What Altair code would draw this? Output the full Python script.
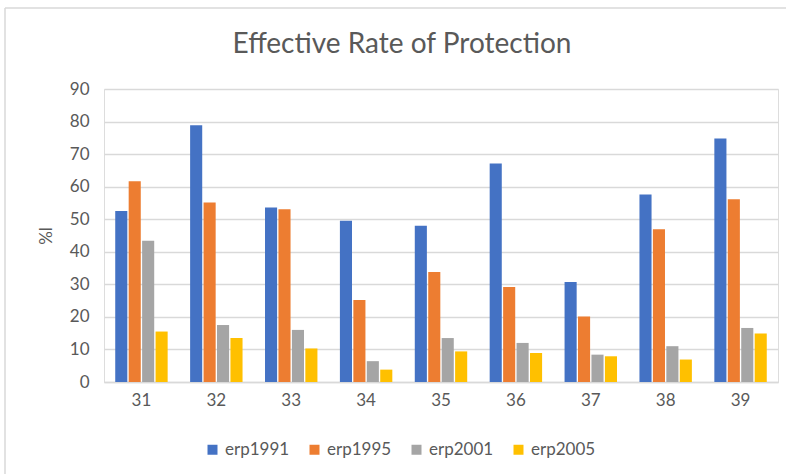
import altair as alt
import pandas as pd

# Industry codes on the x axis
categories = ["31", "32", "33", "34", "35", "36", "37", "38", "39"]
series_names = ["erp1991", "erp1995", "erp2001", "erp2005"]

# Effective rate of protection (%) by year
erp1991 = [52.5, 78.9, 53.6, 49.5, 48.0, 67.1, 30.7, 57.6, 74.8]
erp1995 = [61.7, 55.1, 53.1, 25.2, 33.8, 29.2, 20.1, 46.9, 56.1]
erp2001 = [43.4, 17.5, 16.0, 6.4, 13.5, 12.0, 8.4, 11.0, 16.6]
erp2005 = [15.5, 13.5, 10.3, 3.8, 9.4, 8.9, 7.9, 6.9, 14.9]

series_values = [erp1991, erp1995, erp2001, erp2005]
colors = ["#4472C4", "#ED7D31", "#A5A5A5", "#FFC000"]

rows = []
for name, vals in zip(series_names, series_values):
    for cat, v in zip(categories, vals):
        rows.append({"code": cat, "series": name, "value": v})
df = pd.DataFrame(rows)

FONT = "Lato"
GREY = "#595959"
LINE = "#D9D9D9"

bars = alt.Chart(df).mark_bar().encode(
    x=alt.X(
        "code:N",
        sort=categories,
        title=None,
        scale=alt.Scale(paddingInner=0.3, paddingOuter=0.15),
        axis=alt.Axis(
            labelAngle=0,
            labelFont=FONT,
            labelFontSize=17,
            labelColor=GREY,
            labelPadding=10,
            ticks=False,
            domainColor=LINE,
            domainWidth=1.5,
            grid=False,
        ),
    ),
    xOffset=alt.XOffset("series:N", sort=series_names, scale=alt.Scale(paddingInner=0.1)),
    y=alt.Y(
        "value:Q",
        title="%l",
        scale=alt.Scale(domain=[0, 90], nice=False),
        axis=alt.Axis(
            values=list(range(0, 91, 10)),
            labelFont=FONT,
            labelFontSize=17,
            labelColor=GREY,
            labelPadding=15,
            ticks=False,
            domain=False,
            gridColor=LINE,
            gridWidth=1.5,
            titleFont=FONT,
            titleFontSize=17,
            titleFontWeight="normal",
            titleColor=GREY,
            titlePadding=14,
        ),
    ),
    color=alt.Color(
        "series:N",
        sort=series_names,
        scale=alt.Scale(domain=series_names, range=colors),
        legend=alt.Legend(
            title=None,
            orient="none",
            direction="horizontal",
            columns=4,
            legendX=100,
            legendY=352,
            symbolType="square",
            symbolSize=100,
            symbolStrokeWidth=0,
            labelFont=FONT,
            labelFontSize=17,
            labelColor=GREY,
            labelOffset=4,
            columnPadding=16,
        ),
    ),
)

# Outer chart frame
frame_data = alt.Data(values=[{"k": 0}])
frame_top = alt.Chart(frame_data).mark_rule(color=LINE, strokeWidth=1.5).encode(
    x=alt.value(-99), x2=alt.value(700), y=alt.value(-81)
)
frame_left = alt.Chart(frame_data).mark_rule(color=LINE, strokeWidth=1.5).encode(
    x=alt.value(-99), y=alt.value(-81), y2=alt.value(400)
)

chart = alt.layer(bars, frame_top, frame_left).properties(
    width=674,
    height=293,
    title=alt.TitleParams(
        "Effective Rate of Protection",
        font=FONT,
        fontSize=28,
        fontWeight="normal",
        color=GREY,
        anchor="middle",
        frame="group",
        dx=-39,
        baseline="alphabetic",
        offset=-74,
    ),
    autosize=alt.AutoSizeParams(type="none"),
    padding={"left": 104, "top": 89, "right": 8, "bottom": 92},
).configure_view(stroke=None).configure(background="white")

chart.save("out.html", embed_options={"renderer": "svg", "actions": False})
